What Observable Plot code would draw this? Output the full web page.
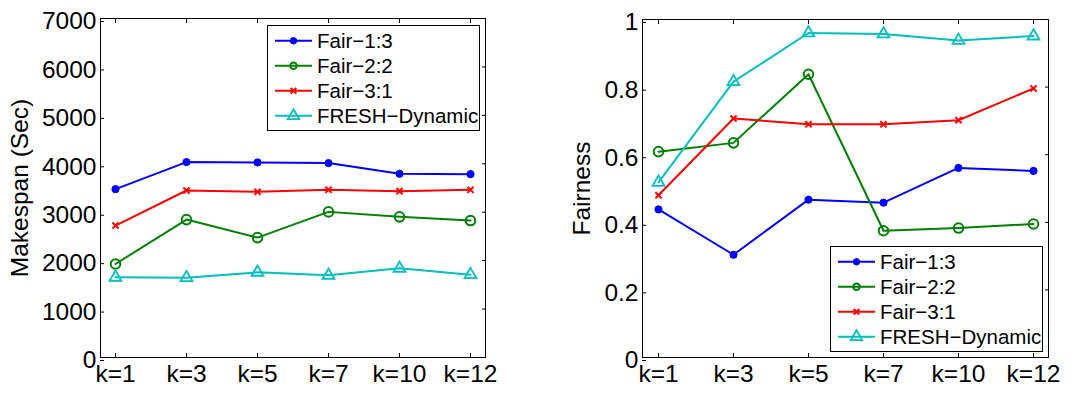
<!DOCTYPE html>
<html><head>
<meta charset="utf-8">
<script src="https://cdn.jsdelivr.net/npm/d3@7"></script>
<script src="https://cdn.jsdelivr.net/npm/@observablehq/plot@0.6"></script>
<style>
body{margin:0;background:#fff;}
#wrap{position:relative;width:1089px;height:394px;overflow:hidden;font-family:"Liberation Sans",Arial,sans-serif;}
.panel{position:absolute;top:0;}
.legend{position:absolute;}
</style>
</head><body><div id="wrap"></div>
<script>
const kLabels = ["k=1","k=3","k=5","k=7","k=10","k=12"];
const seriesNames = ["Fair\u22121:3","Fair\u22122:2","Fair\u22123:1","FRESH\u2212Dynamic"];
const seriesColors = ["#0000ff","#008000","#ff0000","#00bfbf"];
const seriesSymbols = ["circle","circle","times","triangle"];

const makespanFair13 = [3476,4035,4028,4014,3793,3786];
const makespanFair22 = [1931,2848,2476,3007,2904,2828];
const makespanFair31 = [2724,3448,3421,3462,3435,3462];
const makespanFresh  = [1655,1648,1759,1697,1841,1710];
const makespanTicks  = [0,1000,2000,3000,4000,5000,6000,7000];

const fairnessFair13 = [0.438,0.304,0.467,0.458,0.561,0.552];
const fairnessFair22 = [0.609,0.635,0.838,0.375,0.383,0.395];
const fairnessFair31 = [0.480,0.707,0.690,0.690,0.702,0.796];
const fairnessFresh  = [0.518,0.816,0.960,0.957,0.938,0.951];
const fairnessTicks  = [0,0.2,0.4,0.6,0.8,1];

const markerStyle = [
  {r:3.6, fill:seriesColors[0], stroke:seriesColors[0], strokeWidth:1},
  {r:4.8, fill:"none", stroke:seriesColors[1], strokeWidth:2},
  {r:2.9, fill:"none", stroke:seriesColors[2], strokeWidth:2},
  {r:4.4, fill:"none", stroke:seriesColors[3], strokeWidth:1.8}
];

function makeChart(cfg){
  const series = cfg.values.map((vals,i)=> kLabels.map((k,j)=>({series:seriesNames[i], k, v:vals[j]})));
  const marks = [
    Plot.frame({stroke:"black", strokeWidth:1}),
    Plot.axisX({anchor:"bottom", tickSize:-4, tickPadding:11, label:null}),
    Plot.axisX({anchor:"top", tickSize:-4, tickFormat:()=>"", label:null}),
    Plot.axisY({anchor:"left", ticks:cfg.ticks, tickSize:-4, tickPadding:8, dy:3,
      tickFormat:d=>String(+(+d).toFixed(1)), label:cfg.label, labelAnchor:"center", labelArrow:"none", labelOffset:cfg.labelOffset}),
    Plot.axisY({anchor:"right", ticks:cfg.ticks, tickSize:-4, tickFormat:()=>"", label:null})
  ];
  series.forEach((d,i)=>{
    marks.push(Plot.line(d,{x:"k", y:"v", stroke:seriesColors[i], strokeWidth:2}));
  });
  series.forEach((d,i)=>{
    const m = markerStyle[i];
    marks.push(Plot.dot(d,{x:"k", y:"v", symbol:seriesSymbols[i], r:m.r, fill:m.fill, stroke:m.stroke, strokeWidth:m.strokeWidth}));
  });
  return Plot.plot({
    width:cfg.width, height:394,
    marginLeft:cfg.ml, marginRight:cfg.mr, marginTop:cfg.mt, marginBottom:cfg.mb,
    x:{type:"point", domain:kLabels, padding:0.2},
    y:{domain:cfg.domain},
    style:{fontSize:"24.5px", fontFamily:"'Liberation Sans', Arial, sans-serif", color:"black", background:"white", overflow:"visible"},
    marks
  });
}

function makeLegend(left, top){
  const W=212, H=105;
  const svg = d3.create("svg").attr("class","legend").attr("width",W+2).attr("height",H+2)
    .style("left",left+"px").style("top",top+"px");
  svg.append("rect").attr("x",0.5).attr("y",0.5).attr("width",W).attr("height",H)
    .attr("fill","white").attr("stroke","black").attr("stroke-width",1);
  const symMap = {circle:d3.symbolCircle, times:d3.symbolTimes, triangle:d3.symbolTriangle};
  const legendR = [3.2, 3.3, 2.7, 4.2];
  seriesNames.forEach((name,i)=>{
    const cy = 15.8 + i*25;
    const g = svg.append("g");
    g.append("line").attr("x1",8).attr("x2",45).attr("y1",cy).attr("y2",cy)
      .attr("stroke",seriesColors[i]).attr("stroke-width",2);
    const m = markerStyle[i];
    const mr = legendR[i];
    g.append("path").attr("d", d3.symbol(symMap[seriesSymbols[i]], Math.PI*mr*mr)())
      .attr("transform",`translate(26.5,${cy})`)
      .attr("fill",m.fill).attr("stroke",m.stroke).attr("stroke-width",m.strokeWidth);
    g.append("text").attr("x",50).attr("y",cy).attr("dy","0.36em")
      .attr("font-size","20.5px").attr("font-family","'Liberation Sans', Arial, sans-serif")
      .attr("fill","black").text(name);
  });
  return svg.node();
}

const wrap = document.getElementById("wrap");

const left = makeChart({
  values:[makespanFair13, makespanFair22, makespanFair31, makespanFresh],
  domain:[0,7000], ticks:makespanTicks, label:"Makespan (Sec)", labelOffset:90,
  width:545, ml:100, mr:60, mt:18, mb:37
});
left.classList.add("panel"); left.style.left="0px";
wrap.appendChild(left);

const right = makeChart({
  values:[fairnessFair13, fairnessFair22, fairnessFair31, fairnessFresh],
  domain:[0,1], ticks:fairnessTicks, label:"Fairness", labelOffset:70,
  width:544, ml:97, mr:41, mt:19, mb:37
});
right.classList.add("panel"); right.style.left="545px";
wrap.appendChild(right);

wrap.appendChild(makeLegend(267,25));
wrap.appendChild(makeLegend(830,246));
</script>
</body></html>
